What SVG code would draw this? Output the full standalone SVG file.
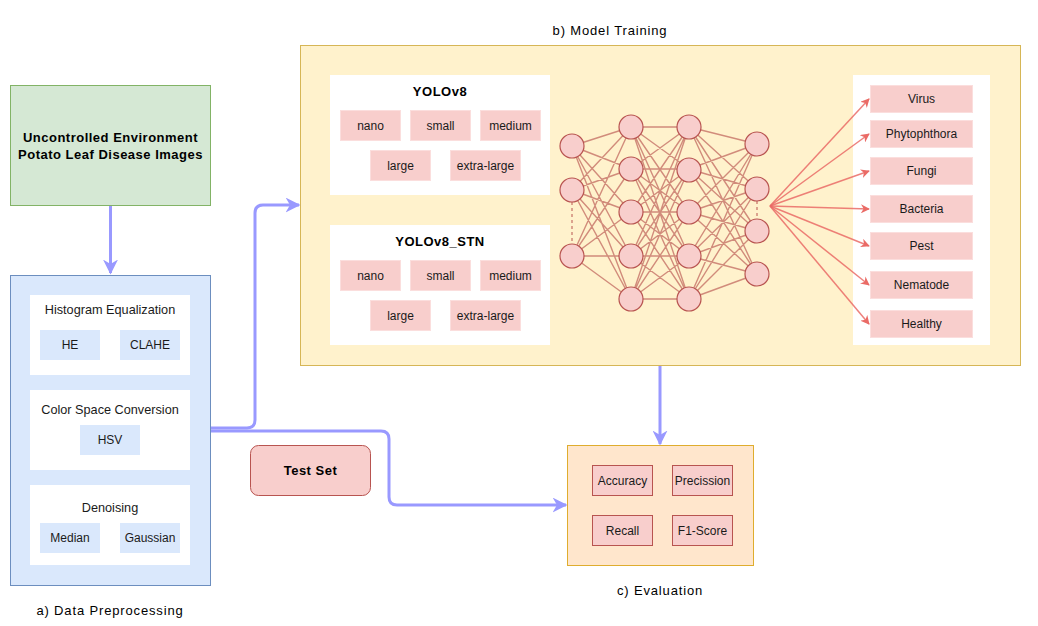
<svg xmlns="http://www.w3.org/2000/svg" width="1038" height="626" viewBox="0 0 1038 626">
<defs>
<style>
text{font-family:"Liberation Sans",Arial,sans-serif;font-size:12px;fill:#1a1a1a;text-anchor:middle;dominant-baseline:central}
.b{font-weight:bold;fill:#000;font-size:13px;letter-spacing:0.5px}
.t{font-size:12.7px}
.cap{font-size:13px;letter-spacing:0.85px;fill:#000}
.white{fill:#fff;stroke:none}
.blu{fill:#dae8fc;stroke:none}
.pink{fill:#f8cecc;stroke:#fbdedd;stroke-width:1}
.pinkd{fill:#f8cecc;stroke:#b85450;stroke-width:1}
.node{fill:#f8cecc;stroke:#b85450;stroke-width:1.2}
.flow{fill:none;stroke:#9999ff;stroke-width:3;stroke-linejoin:round}
.out{fill:none;stroke:#ea6b66;stroke-opacity:0.85;stroke-width:1.5}
</style>
<marker id="ah" viewBox="0 0 10 10" refX="9" refY="5" markerWidth="5" markerHeight="5" orient="auto" markerUnits="strokeWidth">
<path d="M0 0L10 5L0 10L3 5Z" fill="#9999ff"/>
</marker>
<marker id="ar" viewBox="0 0 10 10" refX="9" refY="5" markerWidth="6" markerHeight="6" orient="auto" markerUnits="strokeWidth">
<path d="M0 0L10 5L0 10L3 5Z" fill="#ea6b66"/>
</marker>
</defs>
<rect width="1038" height="626" fill="#fff"/>

<g id="source">
<rect x="10.5" y="85.5" width="200" height="120" fill="#d5e8d4" stroke="#82b366"/>
<text class="b" x="110.5" y="137">Uncontrolled Environment</text>
<text class="b" x="110.5" y="154">Potato Leaf Disease Images</text>
</g>

<g id="preprocessing">
<rect x="10.5" y="275.5" width="200" height="310" fill="#dae8fc" stroke="#6c8ebf"/>
<rect class="white" x="30" y="295" width="160" height="80"/>
<text class="t" x="110" y="310">Histogram Equalization</text>
<rect class="blu" x="40" y="330" width="60" height="30"/>
<text x="70" y="345">HE</text>
<rect class="blu" x="120" y="330" width="60" height="30"/>
<text x="150" y="345">CLAHE</text>
<rect class="white" x="30" y="390" width="160" height="80"/>
<text class="t" x="110" y="410">Color Space Conversion</text>
<rect class="blu" x="80" y="425" width="60" height="30"/>
<text x="110" y="440">HSV</text>
<rect class="white" x="30" y="485" width="160" height="80"/>
<text class="t" x="110" y="508">Denoising</text>
<rect class="blu" x="40" y="523" width="60" height="30"/>
<text x="70" y="538">Median</text>
<rect class="blu" x="120" y="523" width="60" height="30"/>
<text x="150" y="538">Gaussian</text>
<text class="cap" x="110" y="610">a) Data Preprocessing</text>
</g>

<g id="model-training">
<rect x="300.5" y="45.5" width="720" height="320" fill="#fff2cc" stroke="#d6b656"/>
<text class="cap" x="610" y="30">b) Model Training</text>
<rect class="white" x="330" y="75" width="220" height="120"/>
<text class="b" x="440" y="91">YOLOv8</text>
<rect class="pink" x="340.5" y="110.5" width="60" height="30"/><text x="370.5" y="125.5">nano</text>
<rect class="pink" x="410.5" y="110.5" width="60" height="30"/><text x="440.5" y="125.5">small</text>
<rect class="pink" x="480.5" y="110.5" width="60" height="30"/><text x="510.5" y="125.5">medium</text>
<rect class="pink" x="370.5" y="150.5" width="60" height="30"/><text x="400.5" y="165.5">large</text>
<rect class="pink" x="450.5" y="150.5" width="70" height="30"/><text x="485.5" y="165.5">extra-large</text>
<rect class="white" x="330" y="225" width="220" height="120"/>
<text class="b" x="440" y="241">YOLOv8_STN</text>
<rect class="pink" x="340.5" y="260.5" width="60" height="30"/><text x="370.5" y="275.5">nano</text>
<rect class="pink" x="410.5" y="260.5" width="60" height="30"/><text x="440.5" y="275.5">small</text>
<rect class="pink" x="480.5" y="260.5" width="60" height="30"/><text x="510.5" y="275.5">medium</text>
<rect class="pink" x="370.5" y="300.5" width="60" height="30"/><text x="400.5" y="315.5">large</text>
<rect class="pink" x="450.5" y="300.5" width="70" height="30"/><text x="485.5" y="315.5">extra-large</text>
</g>

<g id="neural-network">
<path fill="none" stroke="#b85450" stroke-opacity="0.65" stroke-width="1.4" d="M572 146L631 127M572 146L631 169M572 146L631 212M572 146L631 256M572 146L631 299M572 190L631 127M572 190L631 169M572 190L631 212M572 190L631 256M572 190L631 299M572 256L631 127M572 256L631 169M572 256L631 212M572 256L631 256M572 256L631 299M631 127L689 127M631 127L689 169M631 127L689 212M631 127L689 256M631 127L689 299M631 169L689 127M631 169L689 169M631 169L689 212M631 169L689 256M631 169L689 299M631 212L689 127M631 212L689 169M631 212L689 212M631 212L689 256M631 212L689 299M631 256L689 127M631 256L689 169M631 256L689 212M631 256L689 256M631 256L689 299M631 299L689 127M631 299L689 169M631 299L689 212M631 299L689 256M631 299L689 299M689 127L757 144M689 127L757 189M689 127L757 231M689 127L757 274M689 169L757 144M689 169L757 189M689 169L757 231M689 169L757 274M689 212L757 144M689 212L757 189M689 212L757 231M689 212L757 274M689 256L757 144M689 256L757 189M689 256L757 231M689 256L757 274M689 299L757 144M689 299L757 189M689 299L757 231M689 299L757 274"/>
<path fill="none" stroke="#b85450" stroke-width="1" stroke-dasharray="3 3" d="M572 202V244M757 201V219"/>
<circle class="node" cx="572" cy="146" r="12"/>
<circle class="node" cx="572" cy="190" r="12"/>
<circle class="node" cx="572" cy="256" r="12"/>
<circle class="node" cx="631" cy="127" r="12"/>
<circle class="node" cx="631" cy="169" r="12"/>
<circle class="node" cx="631" cy="212" r="12"/>
<circle class="node" cx="631" cy="256" r="12"/>
<circle class="node" cx="631" cy="299" r="12"/>
<circle class="node" cx="689" cy="127" r="12"/>
<circle class="node" cx="689" cy="170" r="12"/>
<circle class="node" cx="689" cy="212" r="12"/>
<circle class="node" cx="689" cy="256" r="12"/>
<circle class="node" cx="689" cy="299" r="12"/>
<circle class="node" cx="757" cy="144" r="12"/>
<circle class="node" cx="757" cy="189" r="12"/>
<circle class="node" cx="757" cy="231" r="12"/>
<circle class="node" cx="757" cy="274" r="12"/>
</g>

<g id="classes">
<rect class="white" x="853" y="75" width="137" height="270"/>
<rect class="pink" x="870.5" y="85.5" width="102" height="27"/><text x="921.5" y="99">Virus</text>
<rect class="pink" x="870.5" y="120.5" width="102" height="27"/><text x="921.5" y="134">Phytophthora</text>
<rect class="pink" x="870.5" y="157.5" width="102" height="27"/><text x="921.5" y="171">Fungi</text>
<rect class="pink" x="870.5" y="195.5" width="102" height="27"/><text x="921.5" y="209">Bacteria</text>
<rect class="pink" x="870.5" y="232.5" width="102" height="27"/><text x="921.5" y="246">Pest</text>
<rect class="pink" x="870.5" y="271.5" width="102" height="27"/><text x="921.5" y="285">Nematode</text>
<rect class="pink" x="870.5" y="310.5" width="102" height="27"/><text x="921.5" y="324">Healthy</text>
</g>

<g id="test-set">
<rect class="pinkd" x="250.5" y="445.5" width="120" height="50" rx="8"/>
<text class="b" x="310.5" y="470.5">Test Set</text>
</g>

<g id="evaluation">
<rect x="567.5" y="445.5" width="186" height="120" fill="#ffe6cc" stroke="#d79b00" stroke-opacity="0.8"/>
<rect class="pinkd" x="592.5" y="465.5" width="60" height="30"/><text x="622.5" y="480.5">Accuracy</text>
<rect class="pinkd" x="672.5" y="465.5" width="60" height="30"/><text x="702.5" y="480.5">Precission</text>
<rect class="pinkd" x="592.5" y="515.5" width="60" height="30"/><text x="622.5" y="530.5">Recall</text>
<rect class="pinkd" x="672.5" y="515.5" width="60" height="30"/><text x="702.5" y="530.5">F1-Score</text>
<text class="cap" x="660" y="590">c) Evaluation</text>
</g>

<g id="connectors">
<path class="flow" d="M110.5 206V273" marker-end="url(#ah)"/>
<path class="flow" d="M211 428H247Q255 428 255 420V213Q255 205 263 205H299" marker-end="url(#ah)"/>
<path class="flow" d="M211 431H381Q389 431 389 439V497Q389 505 397 505H566" marker-end="url(#ah)"/>
<path class="flow" d="M660 366V444" marker-end="url(#ah)"/>
<path class="out" d="M770 206L869 99" marker-end="url(#ar)"/>
<path class="out" d="M770 206L869 134" marker-end="url(#ar)"/>
<path class="out" d="M770 206L869 171" marker-end="url(#ar)"/>
<path class="out" d="M770 206L869 209" marker-end="url(#ar)"/>
<path class="out" d="M770 206L869 246" marker-end="url(#ar)"/>
<path class="out" d="M770 206L869 285" marker-end="url(#ar)"/>
<path class="out" d="M770 206L869 324" marker-end="url(#ar)"/>
</g>
</svg>
